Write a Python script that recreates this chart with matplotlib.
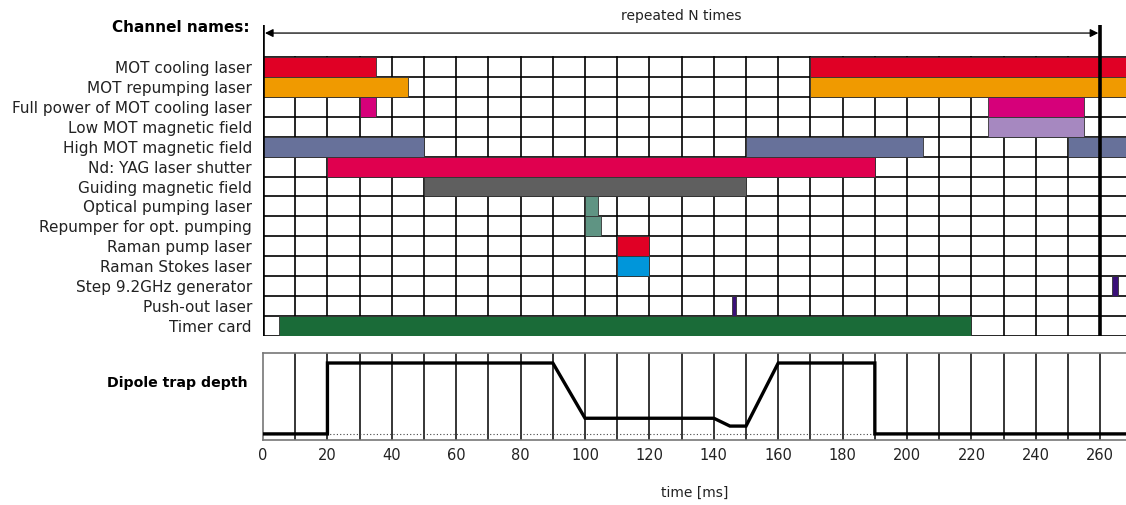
import matplotlib
matplotlib.use("Agg")
import matplotlib.pyplot as plt

plt.rcParams["font.family"] = ["DejaVu Sans"]

# ── Data ─────────────────────────────────────────────────────────────────────
channels = [
    "MOT cooling laser",
    "MOT repumping laser",
    "Full power of MOT cooling laser",
    "Low MOT magnetic field",
    "High MOT magnetic field",
    "Nd: YAG laser shutter",
    "Guiding magnetic field",
    "Optical pumping laser",
    "Repumper for opt. pumping",
    "Raman pump laser",
    "Raman Stokes laser",
    "Step 9.2GHz generator",
    "Push-out laser",
    "Timer card",
]
# on-intervals (ms) for each channel
intervals = [
    [(0, 35), (170, 268)],
    [(0, 45), (170, 268)],
    [(30, 35), (225, 255)],
    [(225, 255)],
    [(0, 50), (150, 205), (250, 268)],
    [(20, 190)],
    [(50, 150)],
    [(100, 104)],
    [(100, 105)],
    [(110, 120)],
    [(110, 120)],
    [(263.5, 265.5)],
    [(145.5, 147)],
    [(5, 220)],
]
colors = ["#E00025", "#F09A00", "#D6007A", "#A688C0", "#67719A", "#E0004F",
          "#5F5F5F", "#5F9483", "#5F9483", "#E00025", "#0096DA", "#3A1078",
          "#3A1078", "#1A6B38"]

# dipole trap depth trace
depth_t = [0, 20, 20, 90, 100, 140, 145, 150, 160, 190, 190, 268]
depth_v = [0.07, 0.07, 0.885, 0.885, 0.25, 0.25, 0.16, 0.16, 0.885, 0.885, 0.07, 0.07]

xticks = list(range(0, 261, 20))
XMAX = 268
N_ROWS = len(channels)

# ── Figure ───────────────────────────────────────────────────────────────────
fig = plt.figure(figsize=(11.26, 5.05), dpi=100)
ax = fig.add_axes([0.2336, 1 - 336 / 505, 0.7664, (336 - 20.1) / 505])
ax.set_xlim(0, XMAX)
ax.set_ylim(N_ROWS, -1.85)
for s in ax.spines.values():
    s.set_visible(False)
ax.set_xticks([])

# grid
for y in range(N_ROWS + 1):
    ax.plot([0, XMAX], [y, y], color="black", lw=1.2, zorder=1,
            solid_capstyle="butt")
for x in range(10, 270, 10):
    ax.plot([x, x], [0, N_ROWS], color="black", lw=1.2, zorder=1)

# bars
for i, (ivs, c) in enumerate(zip(intervals, colors)):
    for a, b in ivs:
        ax.barh(i + 0.5, b - a, left=a, height=1.0, color=c,
                edgecolor="#333333", linewidth=0.6, zorder=2)

# bold period markers and repeat arrow
for x in (0, 260):
    ax.plot([x, x], [-1.6, N_ROWS], color="black", lw=2.6, zorder=4,
            solid_capstyle="butt")
ax.annotate("", xy=(0.6, -1.2), xytext=(259.4, -1.2),
            arrowprops=dict(arrowstyle="<|-|>", color="black", lw=0.9,
                            mutation_scale=12, shrinkA=0, shrinkB=0),
            zorder=5)
ax.text(130, -2.05, "repeated N times", ha="center", va="center",
        fontsize=10, color="#222222")

ax.set_yticks([i + 0.5 for i in range(N_ROWS)])
ax.set_yticklabels(channels, fontsize=11, color="#222222")
ax.tick_params(axis="y", length=0, pad=8)

fig.text(250 / 1126, 1 - 28 / 505, "Channel names:", ha="right",
         va="center", fontsize=11, fontweight="bold")

# ── Dipole trap panel ────────────────────────────────────────────────────────
bx = fig.add_axes([0.2336, 1 - 440 / 505, 0.7664, 87 / 505])
bx.set_xlim(0, XMAX)
bx.set_ylim(0, 1)
for name, s in bx.spines.items():
    s.set_color("#777777")
    s.set_linewidth(1.2)
bx.spines["right"].set_visible(False)
for x in range(10, 270, 10):
    bx.plot([x, x], [0, 1], color="black", lw=1.1, zorder=1)
bx.plot([0, XMAX], [0.07, 0.07], color="#444444", lw=0.8,
        linestyle=(0, (1, 2)), zorder=2)
bx.plot(depth_t, depth_v, color="black", lw=2.4, zorder=3,
        solid_joinstyle="miter")
bx.set_yticks([])
bx.set_xticks(xticks)
bx.set_xticklabels([str(t) for t in xticks], fontsize=10.5, color="#222222")
bx.tick_params(axis="x", length=0, pad=6)

fig.text(248 / 1126, 1 - 383 / 505, "Dipole trap depth", ha="right",
         va="center", fontsize=10.2, fontweight="bold")
fig.text(695 / 1126, 1 - 493 / 505, "time [ms]", ha="center", va="center",
         fontsize=10, color="#222222")

fig.savefig("out.png", dpi=100, facecolor="white")
